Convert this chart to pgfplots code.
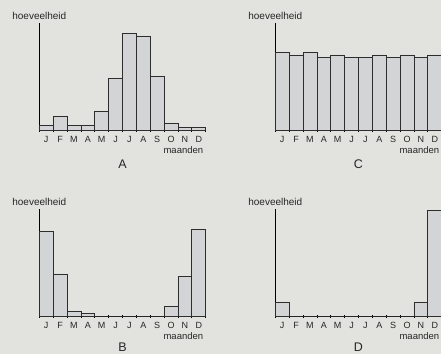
\documentclass[border=0pt]{standalone}
\usepackage{fontspec}
\setmainfont{Liberation Sans}
\usepackage{pgfplots}
\pgfplotsset{compat=1.18}
\definecolor{bg}{RGB}{226,226,222}
\definecolor{barfill}{RGB}{211,212,214}
\definecolor{bardark}{RGB}{45,45,45}
\pgfplotsset{
  panel/.style={
    scale only axis, width=166.4pt, height=107.5pt,
    xmin=-0.5, xmax=11.5, ymin=0, ymax=322,
    axis x line=bottom, axis y line=left,
    axis line style={-, black, line width=0.8pt},
    ytick=\empty,
    xtick={0,1,2,3,4,5,6,7,8,9,10,11},
    xticklabels={J,F,M,A,M,J,J,A,S,O,N,D},
    major tick length=0pt,
    xticklabel style={font=\fontsize{9}{10}\selectfont, anchor=base, yshift=-12pt, text=black!85},
    extra x ticks={-0.5,0.5,1.5,2.5,3.5,4.5,5.5,6.5,7.5,8.5,9.5,10.5,11.5},
    extra x tick labels={},
    extra x tick style={major tick length=3pt, tick align=center, tick style={black, line width=0.7pt}},
    clip=false,
  },
  bars/.style={ybar, bar width=1, fill=barfill, draw=bardark, line width=0.7pt},
}
\newcommand{\panellabels}[2]{%
  \node[font=\fontsize{10}{12}\selectfont, text=black!85] at ([yshift=6.7pt]rel axis cs:0,1) {hoeveelheid};
  \node[font=\fontsize{9.5}{11}\selectfont, anchor=east, text=black!85] at ([yshift=-20pt,xshift=1pt]rel axis cs:1,0) {maanden};
  \node[font=\fontsize{12.5}{14}\selectfont, text=black!85] at ([yshift=-#2]rel axis cs:0.5,0) {#1};
}
\begin{document}
\begin{tikzpicture}[x=1pt,y=1pt]
\path[use as bounding box, fill=bg] (0,0) rectangle (441,354);
\clip (0,0) rectangle (441,354);
% A
\begin{axis}[panel, at={(39.3pt,224pt)}, anchor=south west]
\addplot[bars] coordinates {(0,13) (1,42) (2,13) (3,13) (4,56) (5,155) (6,289) (7,282) (8,162) (9,20) (10,8) (11,8)};
\panellabels{A}{34pt}
\end{axis}
% C
\begin{axis}[panel, at={(275.3pt,224pt)}, anchor=south west]
\addplot[bars] coordinates {(0,233) (1,225) (2,233) (3,218) (4,225) (5,218) (6,218) (7,225) (8,218) (9,225) (10,218) (11,225)};
\panellabels{C}{34pt}
\end{axis}
% B
\begin{axis}[panel, at={(39.3pt,38pt)}, anchor=south west]
\addplot[bars] coordinates {(0,253) (1,126) (2,13) (3,7) (4,0) (5,0) (6,0) (7,0) (8,0) (9,28) (10,119) (11,260)};
\panellabels{B}{31pt}
\end{axis}
% D
\begin{axis}[panel, at={(275.3pt,38pt)}, anchor=south west]
\addplot[bars] coordinates {(0,41) (1,0) (2,0) (3,0) (4,0) (5,0) (6,0) (7,0) (8,0) (9,0) (10,41) (11,316)};
\panellabels{D}{31pt}
\end{axis}
\end{tikzpicture}
\end{document}
